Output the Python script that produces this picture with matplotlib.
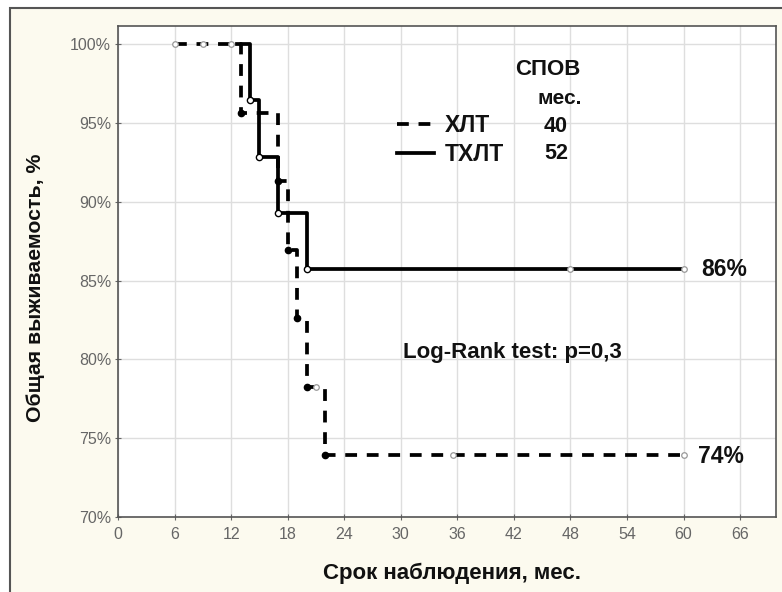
import matplotlib
matplotlib.use("Agg")
import matplotlib.pyplot as plt
from matplotlib.patches import Rectangle
from matplotlib.lines import Line2D

plt.rcParams['font.family'] = ['Liberation Sans', 'DejaVu Sans']
plt.rcParams['lines.scale_dashes'] = False

# --- data ---
xlt_time = [6, 13, 17, 18, 19, 20, 22, 60]
xlt_surv = [100, 95.65, 91.30, 86.96, 82.61, 78.26, 73.91, 73.91]
xlt_cens_time = [6, 9, 12, 21, 35.5, 60]
xlt_cens_surv = [100, 100, 100, 78.26, 73.91, 73.91]

txlt_time = [12.6, 14, 15, 17, 20, 60]
txlt_surv = [100, 96.43, 92.86, 89.29, 85.71, 85.71]
txlt_cens_time = [48, 60]
txlt_cens_surv = [85.71, 85.71]

xticks = [0, 6, 12, 18, 24, 30, 36, 42, 48, 54, 60, 66]
yticks = [70, 75, 80, 85, 90, 95, 100]
ytick_labels = ["70%", "75%", "80%", "85%", "90%", "95%", "100%"]

groups = ["ХЛТ", "ТХЛТ"]
median_os = ["40", "52"]
final_labels = ["74%", "86%"]

W, H = 782, 592
XMAX = 69.8
fig = plt.figure(figsize=(W / 100, H / 100), dpi=100, facecolor='white')
# outer cream panel with frame
fig.patches.append(Rectangle((10 / W, -0.02), 1.05, 1 - 8 / H + 0.02,
                             transform=fig.transFigure, facecolor='#fcfaef',
                             edgecolor='#555555', linewidth=1.5, zorder=-10))

ax = fig.add_axes([118 / W, 1 - 517 / H, (776 - 118) / W, (517 - 26) / H])
ax.set_zorder(1)
ax.set_facecolor('white')
ax.set_xlim(0, XMAX)
ax.set_ylim(70, 101.15)

ax.set_xticks(xticks)
ax.set_yticks(yticks)
ax.set_yticklabels(ytick_labels)
ax.grid(True, color='#dedede', linewidth=1.0)
ax.set_axisbelow(True)
ax.tick_params(direction='inout', length=4, width=0.8, colors='#666666',
               labelsize=11.5, labelcolor='#666666', pad=5)
ax.tick_params(axis='y', pad=3)
for s in ax.spines.values():
    s.set_color('#555555')
    s.set_linewidth(1.2)

lw = 2.7
ax.step(xlt_time, xlt_surv, where='post', color='black', linewidth=lw,
        dashes=(8.5, 7), zorder=3)
ax.step(txlt_time, txlt_surv, where='post', color='black', linewidth=lw,
        zorder=3)

# event markers
ax.plot(txlt_time[1:-1], txlt_surv[1:-1], 'o', ms=4.5, mfc='white', mec='black',
        mew=1.0, zorder=4)
ax.plot(xlt_time[1:-1], xlt_surv[1:-1], 'o', ms=4.5, mfc='black', mec='black',
        mew=1.0, zorder=4)
# censored markers
ax.plot(xlt_cens_time, xlt_cens_surv, 'o', ms=4, mfc='white', mec='#999999',
        mew=0.9, zorder=5)
ax.plot(txlt_cens_time, txlt_cens_surv, 'o', ms=4, mfc='white', mec='#999999',
        mew=0.9, zorder=5)

bold = dict(fontweight='bold', color='#111111')
ax.set_xlabel("Срок наблюдения, мес.", fontsize=16, **bold)
ax.xaxis.set_label_coords((452 - 118) / 658, -(573 - 517) / 491)
ax.xaxis.label.set_va('center')
ax.set_ylabel("Общая выживаемость, %", fontsize=15.3, **bold)
ax.yaxis.set_label_coords(-(118 - 36) / 658, 1 - (288 - 26) / 491)
ax.yaxis.label.set_va('center')

# legend
handles = [Line2D([], [], color='black', lw=lw, dashes=(8.5, 7)),
           Line2D([], [], color='black', lw=lw)]
leg = ax.legend(handles, groups, loc='upper left', frameon=False,
                bbox_to_anchor=((397 - 118) / 658, 1 - (114 - 26) / 491),
                handlelength=1.6, handletextpad=0.5, labelspacing=0.25,
                borderaxespad=0, borderpad=0,
                prop=dict(size=16.5, weight='bold'))
for t in leg.get_texts():
    t.set_color('#111111')


def px2data(px, py):
    return (px - 118) / 9.43, 100 - (py - 44) / 15.76


ax.text(*px2data(548, 69), "СПОВ", fontsize=16, ha='center', va='center', **bold)
ax.text(*px2data(560, 98), "мес.", fontsize=15, ha='center', va='center', **bold)
for lab, py in zip(median_os, [126, 153]):
    ax.text(*px2data(556, py), lab, fontsize=15.5, ha='center', va='center', **bold)

ax.text(px2data(698, 0)[0], xlt_surv[-1] - 0.1, final_labels[0], fontsize=16.5,
        ha='left', va='center', **bold)
ax.text(px2data(701, 0)[0], txlt_surv[-1], final_labels[1], fontsize=16.5,
        ha='left', va='center', **bold)
ax.text(*px2data(403, 352), "Log-Rank test: p=0,3", fontsize=16, ha='left',
        va='center', **bold)

fig.savefig("out.png", dpi=100, facecolor=fig.get_facecolor())
